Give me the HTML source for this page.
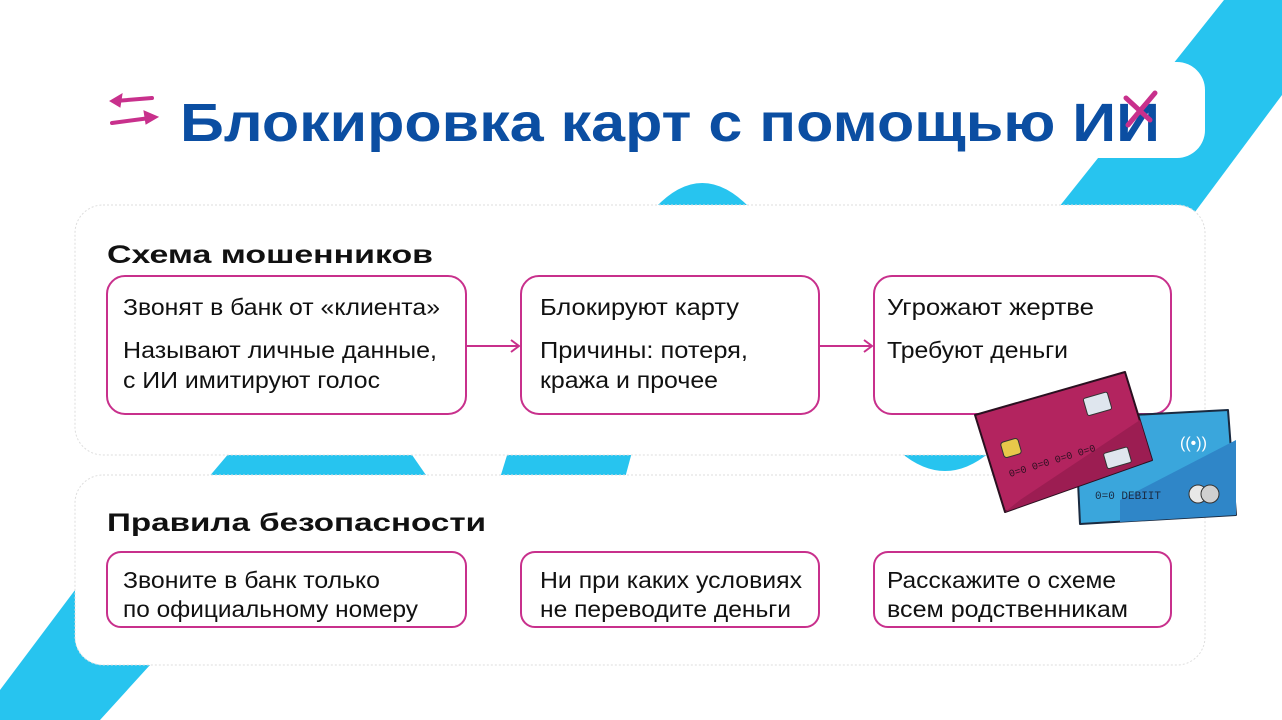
<!DOCTYPE html>
<html><head><meta charset="utf-8"><style>
html,body{margin:0;padding:0;background:#fff;}
svg{display:block;}
</style></head><body>
<svg width="1282" height="720" viewBox="0 0 1282 720" xmlns="http://www.w3.org/2000/svg">
<rect width="1282" height="720" fill="#fff"/>
<!-- cyan background bands -->
<polygon points="1224,0 1282,0 1282,95 1195,212 1055,212" fill="#27c4ef"/>
<path d="M655,208 Q702,158 750,208 Z" fill="#27c4ef"/>
<polygon points="208,478 230,452 410,452 428,478" fill="#27c4ef"/>
<polygon points="500,478 508,452 632,452 625,478" fill="#27c4ef"/>
<path d="M900,452 Q945,490 990,452 Z" fill="#27c4ef"/>
<polygon points="75,590 75,600 150,665 100,720 0,720 0,690" fill="#27c4ef"/>
<!-- panels -->
<rect x="75" y="62" width="1130" height="96" rx="28" fill="#fff"/>
<rect x="75" y="205" width="1130" height="250" rx="28" fill="#fff" stroke="#ddd" stroke-width="1" stroke-dasharray="2,2"/>
<rect x="75" y="475" width="1130" height="190" rx="28" fill="#fff" stroke="#ddd" stroke-width="1" stroke-dasharray="2,2"/>
<!-- title icon -->
<g stroke="#c8308c" stroke-width="4" fill="#c8308c" stroke-linecap="round">
<line x1="152" y1="98" x2="115" y2="101"/>
<polygon points="110,101 122,94 120,107" stroke-width="1"/>
<line x1="112" y1="123" x2="150" y2="118"/>
<polygon points="158,117 144,111 146,124" stroke-width="1"/>
</g>
<text x="180" y="141" font-family="Liberation Sans, sans-serif" font-weight="bold" font-size="54" fill="#0b4ea2" textLength="980" lengthAdjust="spacingAndGlyphs">Блокировка карт с помощью ИИ</text>
<g stroke="#c8308c" stroke-width="5" stroke-linecap="round">
<line x1="1126" y1="98" x2="1150" y2="120"/>
<line x1="1155" y1="93" x2="1128" y2="125"/>
</g>
<!-- headings -->
<g font-family="Liberation Sans, sans-serif" font-weight="bold" font-size="25" fill="#111">
<text x="107" y="263" textLength="326" lengthAdjust="spacingAndGlyphs">Схема мошенников</text>
<text x="107" y="531" textLength="379" lengthAdjust="spacingAndGlyphs">Правила безопасности</text>
</g>
<!-- boxes -->
<g fill="#fff" stroke="#c8308c" stroke-width="2">
<rect x="107" y="276" width="359" height="138" rx="18"/>
<rect x="521" y="276" width="298" height="138" rx="18"/>
<rect x="874" y="276" width="297" height="138" rx="18"/>
<rect x="107" y="552" width="359" height="75" rx="14"/>
<rect x="521" y="552" width="298" height="75" rx="14"/>
<rect x="874" y="552" width="297" height="75" rx="14"/>
</g>
<!-- arrows -->
<g stroke="#c8308c" stroke-width="2" fill="none">
<line x1="466" y1="346" x2="519" y2="346"/><polyline points="511,340 519,346 511,352"/>
<line x1="819" y1="346" x2="872" y2="346"/><polyline points="864,340 872,346 864,352"/>
</g>
<!-- body text -->
<g font-family="Liberation Sans, sans-serif" font-size="23" fill="#111">
<text x="123" y="315" textLength="317" lengthAdjust="spacingAndGlyphs">Звонят в банк от «клиента»</text>
<text x="123" y="358" textLength="314" lengthAdjust="spacingAndGlyphs">Называют личные данные,</text>
<text x="123" y="388" textLength="257" lengthAdjust="spacingAndGlyphs">с ИИ имитируют голос</text>
<text x="540" y="315" textLength="199" lengthAdjust="spacingAndGlyphs">Блокируют карту</text>
<text x="540" y="358" textLength="208" lengthAdjust="spacingAndGlyphs">Причины: потеря,</text>
<text x="540" y="388" textLength="178" lengthAdjust="spacingAndGlyphs">кража и прочее</text>
<text x="887" y="315" textLength="207" lengthAdjust="spacingAndGlyphs">Угрожают жертве</text>
<text x="887" y="358" textLength="181" lengthAdjust="spacingAndGlyphs">Требуют деньги</text>
<text x="123" y="588" textLength="257" lengthAdjust="spacingAndGlyphs">Звоните в банк только</text>
<text x="123" y="617" textLength="295" lengthAdjust="spacingAndGlyphs">по официальному номеру</text>
<text x="540" y="588" textLength="262" lengthAdjust="spacingAndGlyphs">Ни при каких условиях</text>
<text x="540" y="617" textLength="251" lengthAdjust="spacingAndGlyphs">не переводите деньги</text>
<text x="887" y="588" textLength="229" lengthAdjust="spacingAndGlyphs">Расскажите о схеме</text>
<text x="887" y="617" textLength="241" lengthAdjust="spacingAndGlyphs">всем родственникам</text>
</g>
<!-- cards -->
<polygon points="1075,418 1228,410 1236,515 1080,524" fill="#3aa6dc" stroke="#1a2a40" stroke-width="2" stroke-linejoin="round"/>
<polygon points="1120,500 1236,440 1236,515 1120,522" fill="#2f86c8"/>
<text x="1095" y="499" font-family="Liberation Mono, monospace" font-size="11" fill="#1a2a40">0=0 DEBIIT</text>
<circle cx="1198" cy="494" r="9" fill="#e8e8e8" stroke="#333"/>
<circle cx="1210" cy="494" r="9" fill="#d0d0d0" stroke="#333"/>
<text x="1180" y="448" font-family="Liberation Sans, sans-serif" font-size="16" fill="#fff">((•))</text>
<polygon points="975,415 1125,372 1152,460 1005,512" fill="#b3245f" stroke="#2a1020" stroke-width="2" stroke-linejoin="round"/>
<polygon points="1020,500 1140,420 1152,460 1005,512" fill="#9c1d52"/>
<rect x="1002" y="440" width="18" height="16" rx="3" fill="#e8c84a" stroke="#333" transform="rotate(-16 1011 448)"/>
<rect x="1085" y="395" width="25" height="18" rx="2" fill="#dfe6ee" stroke="#333" transform="rotate(-16 1097 404)"/>
<rect x="1105" y="450" width="25" height="16" rx="2" fill="#dfe6ee" stroke="#333" transform="rotate(-16 1117 458)"/>
<text x="1010" y="477" font-family="Liberation Mono, monospace" font-size="10" fill="#2a1020" transform="rotate(-17 1010 477)">0=0 0=0 0=0 0=0</text>
</svg>
</body></html>
